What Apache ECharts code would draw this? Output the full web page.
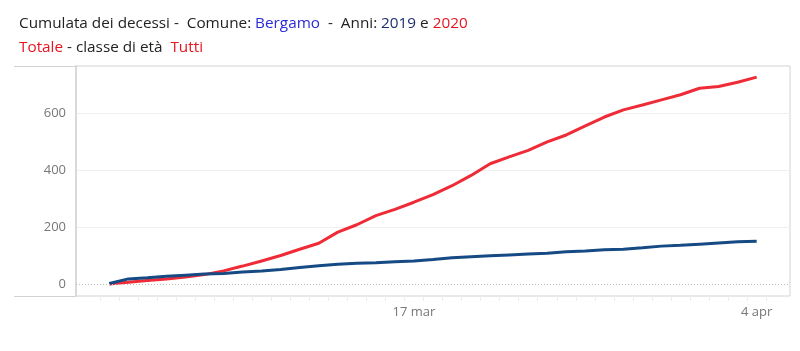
<!DOCTYPE html>
<html>
<head>
<meta charset="utf-8">
<script src="https://cdn.jsdelivr.net/npm/echarts@6/dist/echarts.min.js"></script>
<style>
  html, body { margin: 0; padding: 0; background: #fff; }
  #chart { width: 800px; height: 351px; }
</style>
</head>
<body>
<div id="chart"></div>
<script>
// giorni dal 1 marzo al 4 aprile
var dates = ['1 mar', '2 mar', '3 mar', '4 mar', '5 mar', '6 mar', '7 mar', '8 mar', '9 mar', '10 mar',
  '11 mar', '12 mar', '13 mar', '14 mar', '15 mar', '16 mar', '17 mar', '18 mar', '19 mar', '20 mar',
  '21 mar', '22 mar', '23 mar', '24 mar', '25 mar', '26 mar', '27 mar', '28 mar', '29 mar', '30 mar',
  '31 mar', '1 apr', '2 apr', '3 apr', '4 apr'];

// cumulata decessi 2020
var deaths2020 = [0, 6, 12, 18, 25, 33, 46, 63, 81, 100,
  122, 143, 182, 208, 240, 262, 287, 314, 345, 381,
  422, 446, 469, 499, 523, 555, 586, 611, 628, 646,
  664, 687, 693, 708, 726];

// cumulata decessi 2019
var deaths2019 = [2, 18, 22, 27, 31, 35, 37, 42, 46, 51,
  58, 64, 69, 73, 75, 78, 81, 86, 92, 96,
  99, 102, 105, 108, 113, 116, 120, 122, 127, 133,
  136, 140, 144, 148, 150];

var yLabels = [0, 200, 400, 600];
var yGrid = [200, 400, 600];
var xLabels = ['17 mar', '4 apr'];

window.onload = function () {
  var chart = echarts.init(document.getElementById('chart'));

  var pts2020 = deaths2020.map(function (v, i) { return [i, v]; });
  var pts2019 = deaths2019.map(function (v, i) { return [i, v]; });
  var xLabelIdx = xLabels.map(function (d) { return dates.indexOf(d); });
  var dayTicks = [];
  for (var i = 0; i <= dates.length; i++) dayTicks.push(i - 0.5);

  var fontFamily = '"Open Sans", Lato, sans-serif';
  var txt = function (color) {
    return { color: color, fontSize: 15.3, fontWeight: 'normal', lineHeight: 24, fontFamily: fontFamily };
  };

  var option = {
    backgroundColor: '#fff',
    animation: false,
    textStyle: { fontFamily: fontFamily },
    title: {
      left: 14,
      top: 7,
      text: '{k|Cumulata dei decessi -  Comune: }{b|Bergamo}{k|  -  Anni: }{n|2019}{k| e }{r|2020}\n{r|Totale}{k| - classe di età  }{r|Tutti}',
      textStyle: {
        fontWeight: 'normal',
        rich: {
          k: txt('#222'),
          b: txt('#2b2bd6'),
          n: txt('#1b2f6e'),
          r: txt('#e8141e')
        }
      }
    },
    grid: {
      left: 76,
      right: 10,
      top: 66,
      bottom: 55,
      show: true,
      borderColor: '#d2d2d2',
      borderWidth: 1
    },
    graphic: [
      { type: 'line', shape: { x1: 14, y1: 66.5, x2: 76, y2: 66.5 }, style: { stroke: '#d2d2d2', lineWidth: 1 } },
      { type: 'line', shape: { x1: 14, y1: 296.5, x2: 76, y2: 296.5 }, style: { stroke: '#d2d2d2', lineWidth: 1 } }
    ],
    xAxis: {
      type: 'value',
      min: -1.75,
      max: 35.75,
      axisLine: { show: false, onZero: false },
      splitLine: { show: false },
      axisTick: {
        show: true,
        customValues: dayTicks,
        length: 5,
        lineStyle: { color: '#ececec' }
      },
      axisLabel: {
        customValues: xLabelIdx,
        formatter: function (v) { return dates[Math.round(v)]; },
        color: '#777',
        fontSize: 13,
        margin: 10
      }
    },
    yAxis: {
      type: 'value',
      min: -42,
      max: 765,
      axisLine: { show: true, onZero: false, lineStyle: { color: '#d9d9d9', width: 2 } },
      axisTick: { show: false, customValues: yGrid },
      splitLine: { show: true, lineStyle: { color: '#efefef', width: 1 } },
      axisLabel: {
        customValues: yLabels,
        color: '#777',
        fontSize: 13,
        margin: 10
      }
    },
    series: [
      {
        name: '2020',
        type: 'line',
        data: pts2020,
        showSymbol: false,
        lineStyle: { color: '#ee2b36', width: 3 },
        itemStyle: { color: '#ee2b36' },
        markLine: {
          silent: true,
          symbol: 'none',
          label: { show: false },
          lineStyle: { color: '#bdbdbd', type: [1, 2], width: 1 },
          data: [{ yAxis: 0 }]
        },
        z: 2
      },
      {
        name: '2019',
        type: 'line',
        data: pts2019,
        showSymbol: false,
        lineStyle: { color: '#154a85', width: 3 },
        itemStyle: { color: '#154a85' },
        z: 3
      }
    ]
  };

  chart.setOption(option);
};
</script>
</body>
</html>
